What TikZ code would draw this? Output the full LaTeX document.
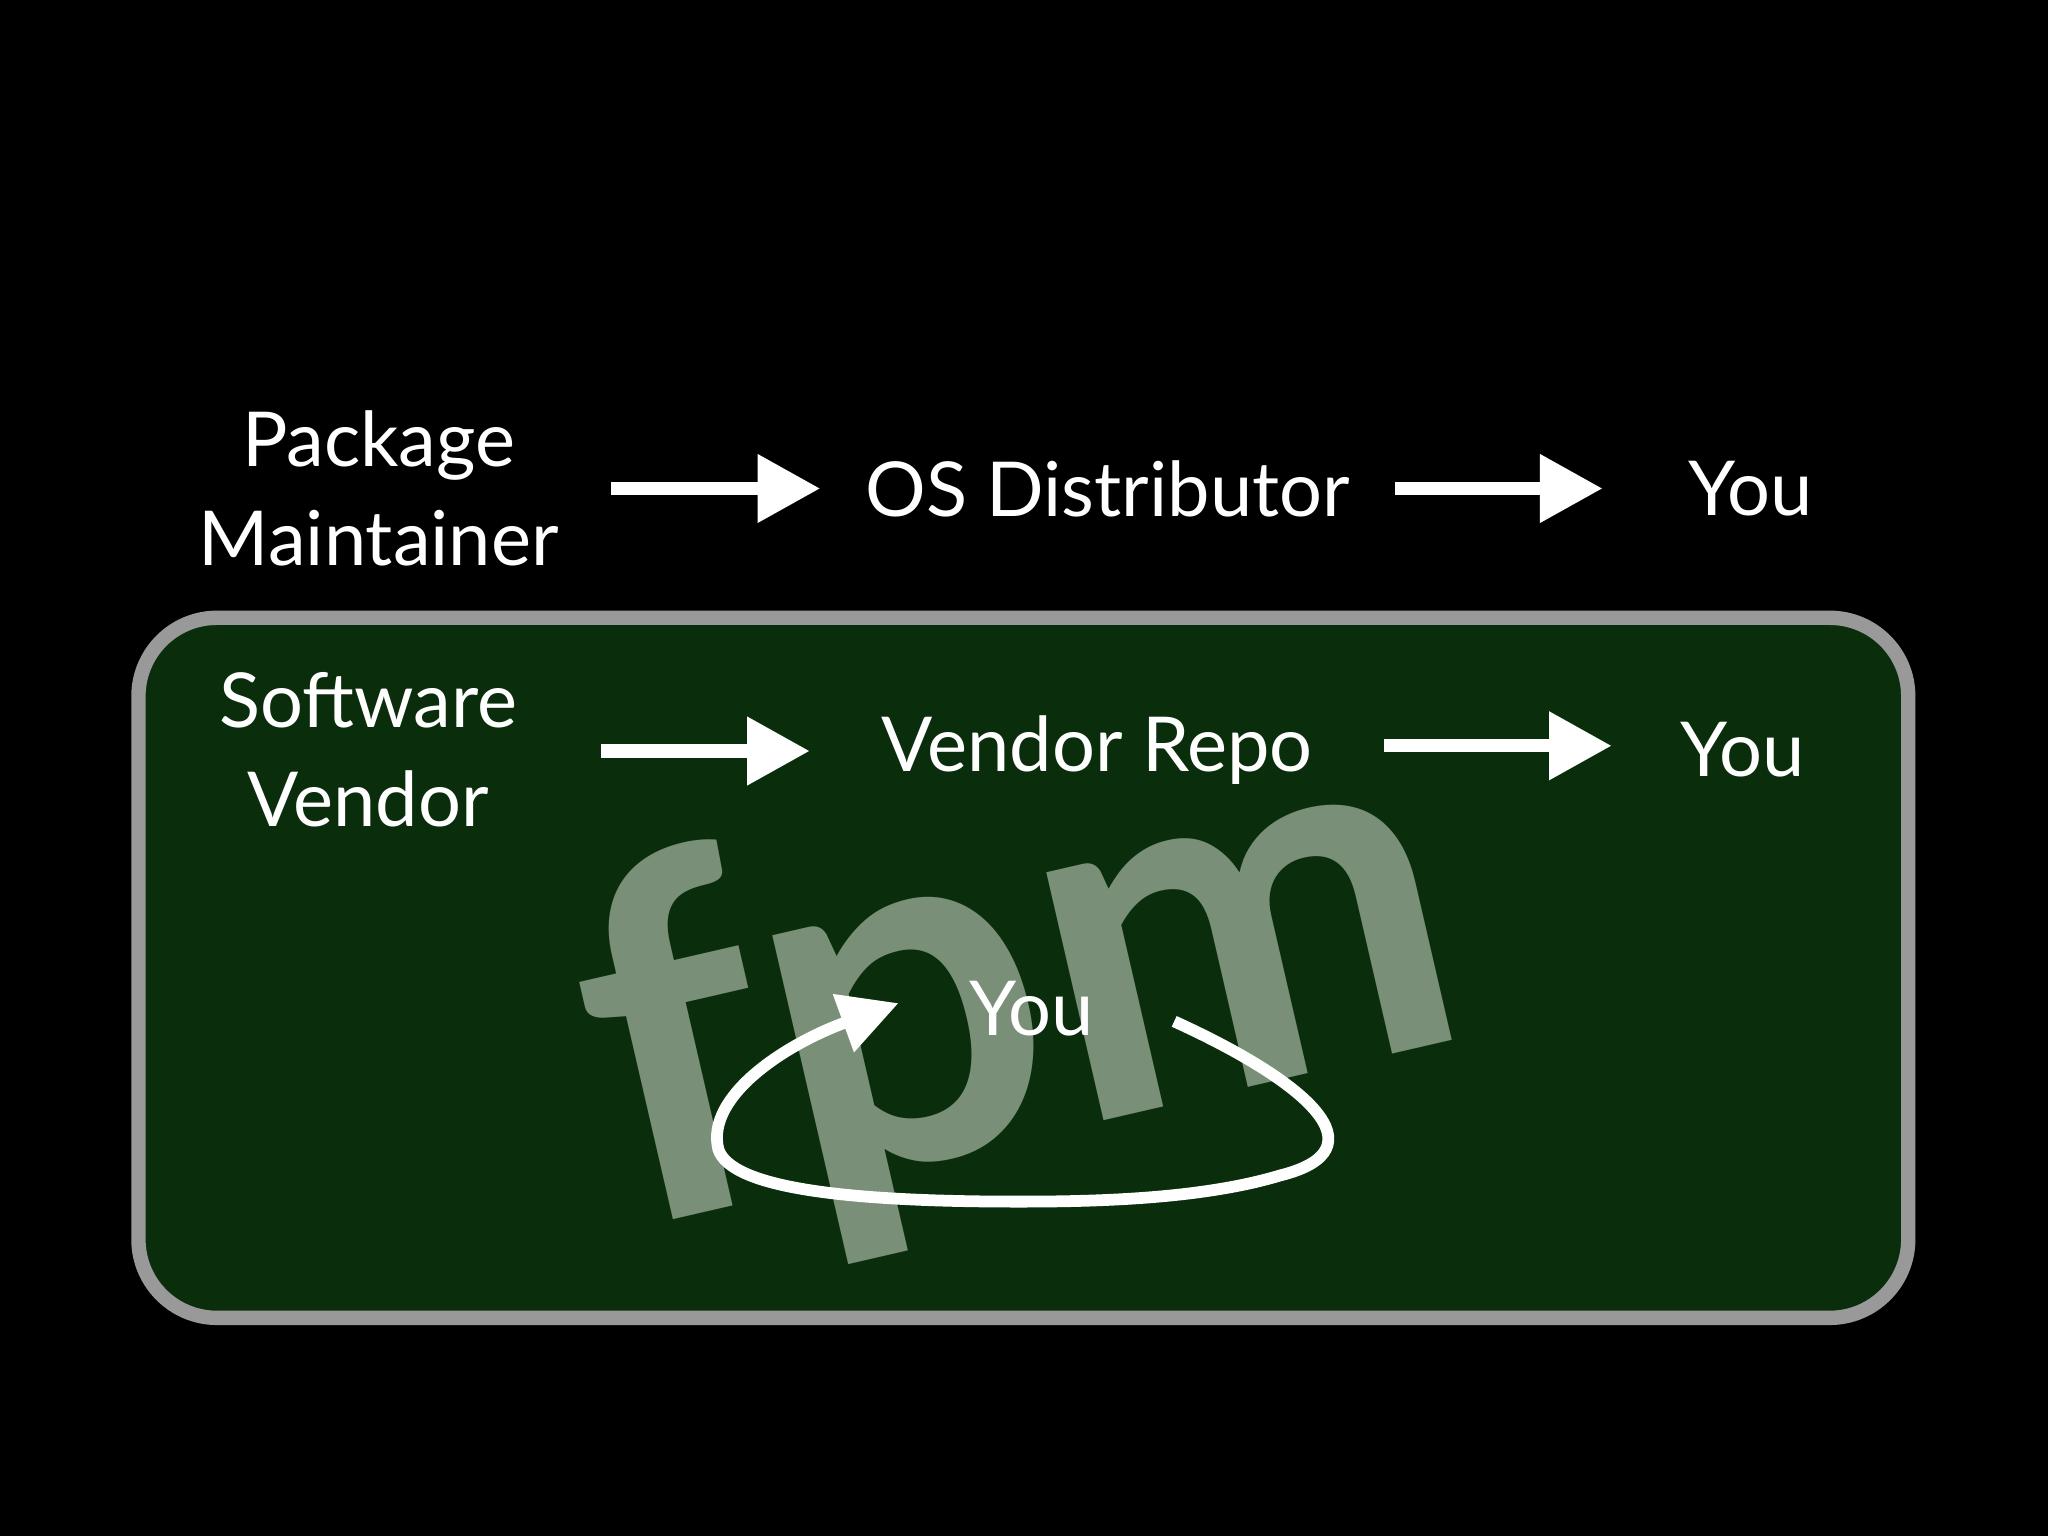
\documentclass[tikz,border=0pt]{standalone}
\usepackage{fontspec}
\setmainfont{Lato}
\usetikzlibrary{arrows.meta}
\definecolor{boxfill}{RGB}{10,46,12}
\definecolor{fpmcol}{RGB}{122,143,120}
\begin{document}
\begin{tikzpicture}[x=0.01cm,y=-0.01cm,
  lbl/.style={text=white,font=\fontsize{16.5}{21.5}\selectfont,align=center,inner sep=0},
  bigarrow/.style={white,line width=0.1cm,-{Triangle[length=0.48cm,width=0.5cm]}}]
\fill[black] (0,0) rectangle (1568,1176);
\useasboundingbox (0,0) rectangle (1568,1176);
\draw[fill=boxfill,draw=gray!80,line width=1.1mm,rounded corners=0.6cm] (106,473) rectangle (1461,1009);
\node[rotate=13,text=fpmcol,font=\fontsize{108}{108}\selectfont\bfseries,inner sep=0] (fpm) at (782,762) {fpm};
\node[lbl] (pm) at (290,374) {Package\\Maintainer};
\node[lbl] (os) at (848,374) {OS Distributor};
\node[lbl] (y1) at (1340,374) {You};
\node[lbl] (sv) at (282,574) {Software\\Vendor};
\node[lbl] (vr) at (840,574) {Vendor Repo};
\node[lbl] (y2) at (1334,574) {You};
\node[lbl] (y3) at (790,772) {You};
\coordinate (a1s) at (468,374); \coordinate (a1e) at (628,374);
\coordinate (a2s) at (1068,374); \coordinate (a2e) at (1227,374);
\coordinate (b1s) at (460,575); \coordinate (b1e) at (620,575);
\coordinate (b2s) at (1060,571); \coordinate (b2e) at (1234,571);
\draw[bigarrow] (a1s) -- (a1e);
\draw[bigarrow] (a2s) -- (a2e);
\draw[bigarrow] (b1s) -- (b1e);
\draw[bigarrow] (b2s) -- (b2e);
\coordinate (ls) at (899,782);
\coordinate (le) at (688,768);
\draw[white,line width=0.09cm,-{Triangle[length=0.45cm,width=0.45cm]}]
  (ls) .. controls (1000,828) and (1060,880) .. (980,900)
  .. controls (920,918) and (840,920) .. (780,920)
  .. controls (650,920) and (560,910) .. (550,880)
  .. controls (540,840) and (600,800) .. (le);
\end{tikzpicture}
\end{document}
